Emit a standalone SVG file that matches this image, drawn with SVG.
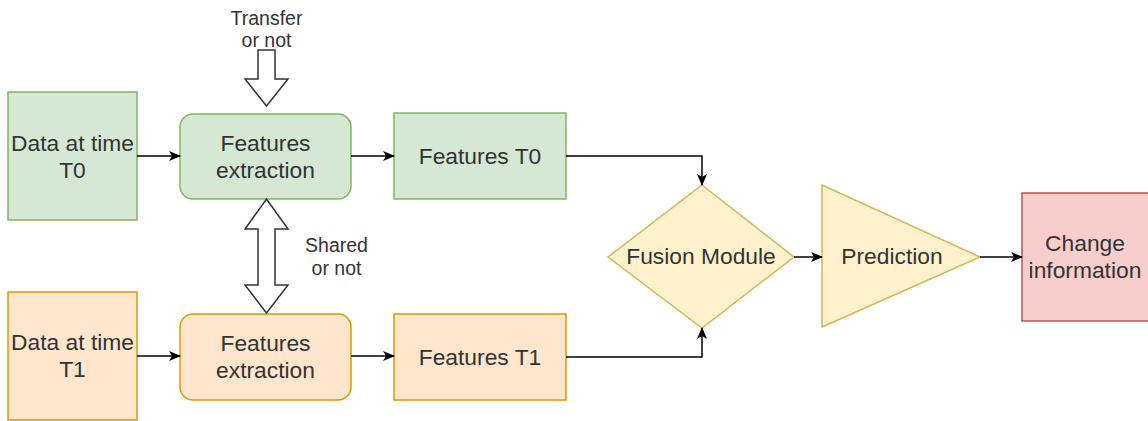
<svg xmlns="http://www.w3.org/2000/svg" width="1148" height="421" viewBox="0 0 1148 421">
<style>
.lbl{font-family:"Liberation Sans",Arial,sans-serif;font-size:22.8px;fill:#333333;text-anchor:middle}
.sm{font-family:"Liberation Sans",Arial,sans-serif;font-size:19.5px;fill:#333333;text-anchor:middle}
.green{fill:#d5e8d4;stroke:#82b366;stroke-width:1.5}
.orange{fill:#ffe6cc;stroke:#d79b00;stroke-width:1.5}
.yellow{fill:#fff2cc;stroke:#d6b656;stroke-width:1.5}
.red{fill:#f8cecc;stroke:#b85450;stroke-width:1.5}
.conn{fill:none;stroke:#000000;stroke-width:1.5}
.big{fill:#ffffff;stroke:#333333;stroke-width:1.5}
</style>
<defs>
<marker id="ah" viewBox="0 0 12 10" refX="11" refY="5" markerWidth="12" markerHeight="10" markerUnits="userSpaceOnUse" orient="auto">
<path d="M0,0 L12,5 L0,10 L3,5 Z" fill="#000000"/>
</marker>
</defs>
<g id="data-t0"><rect class="green" x="8" y="92" width="129" height="128"/><text class="lbl" x="72.5" y="151">Data at time</text><text class="lbl" x="72.5" y="178">T0</text></g>
<g id="fe-t0"><rect class="green" x="180" y="114" width="171" height="85" rx="13"/><text class="lbl" x="265.5" y="151">Features</text><text class="lbl" x="265.5" y="178">extraction</text></g>
<g id="features-t0"><rect class="green" x="394" y="113" width="172" height="86"/><text class="lbl" x="480" y="164">Features T0</text></g>
<g id="data-t1"><rect class="orange" x="8" y="292" width="129" height="128"/><text class="lbl" x="72.5" y="350">Data at time</text><text class="lbl" x="72.5" y="377">T1</text></g>
<g id="fe-t1"><rect class="orange" x="180" y="314" width="171" height="86" rx="13"/><text class="lbl" x="265.5" y="351">Features</text><text class="lbl" x="265.5" y="378">extraction</text></g>
<g id="features-t1"><rect class="orange" x="394" y="314" width="172" height="86"/><text class="lbl" x="480" y="365">Features T1</text></g>
<g id="fusion"><polygon class="yellow" points="702,185 794,257 702,328 608,257"/><text class="lbl" x="701" y="264">Fusion Module</text></g>
<g id="prediction"><polygon class="yellow" points="822,185 980,257 822,327"/><text class="lbl" x="892" y="264">Prediction</text></g>
<g id="change"><rect class="red" x="1022" y="193" width="132" height="128"/><text class="lbl" x="1085" y="251">Change</text><text class="lbl" x="1085" y="278">information</text></g>
<g id="transfer"><polygon class="big" points="258,50 275,50 275,79 288,79 266.5,106 245,79 258,79"/><text class="sm" x="266.5" y="25">Transfer</text><text class="sm" x="266.5" y="47">or not</text></g>
<g id="shared"><polygon class="big" points="266.5,199 288,229 275,229 275,285 288,285 266.5,313 245,285 258,285 258,229 245,229"/><text class="sm" x="336.5" y="252">Shared</text><text class="sm" x="336.5" y="275">or not</text></g>
<g id="connectors">
<path class="conn" d="M137,156 L180,156" marker-end="url(#ah)"/>
<path class="conn" d="M351,156 L394,156" marker-end="url(#ah)"/>
<path class="conn" d="M137,356 L180,356" marker-end="url(#ah)"/>
<path class="conn" d="M351,356 L394,356" marker-end="url(#ah)"/>
<path class="conn" d="M566,156 L702,156 L702,185" marker-end="url(#ah)"/>
<path class="conn" d="M566,357 L702,357 L702,328" marker-end="url(#ah)"/>
<path class="conn" d="M794,257 L822,257" marker-end="url(#ah)"/>
<path class="conn" d="M980,257 L1022,257" marker-end="url(#ah)"/>
</g>
</svg>
